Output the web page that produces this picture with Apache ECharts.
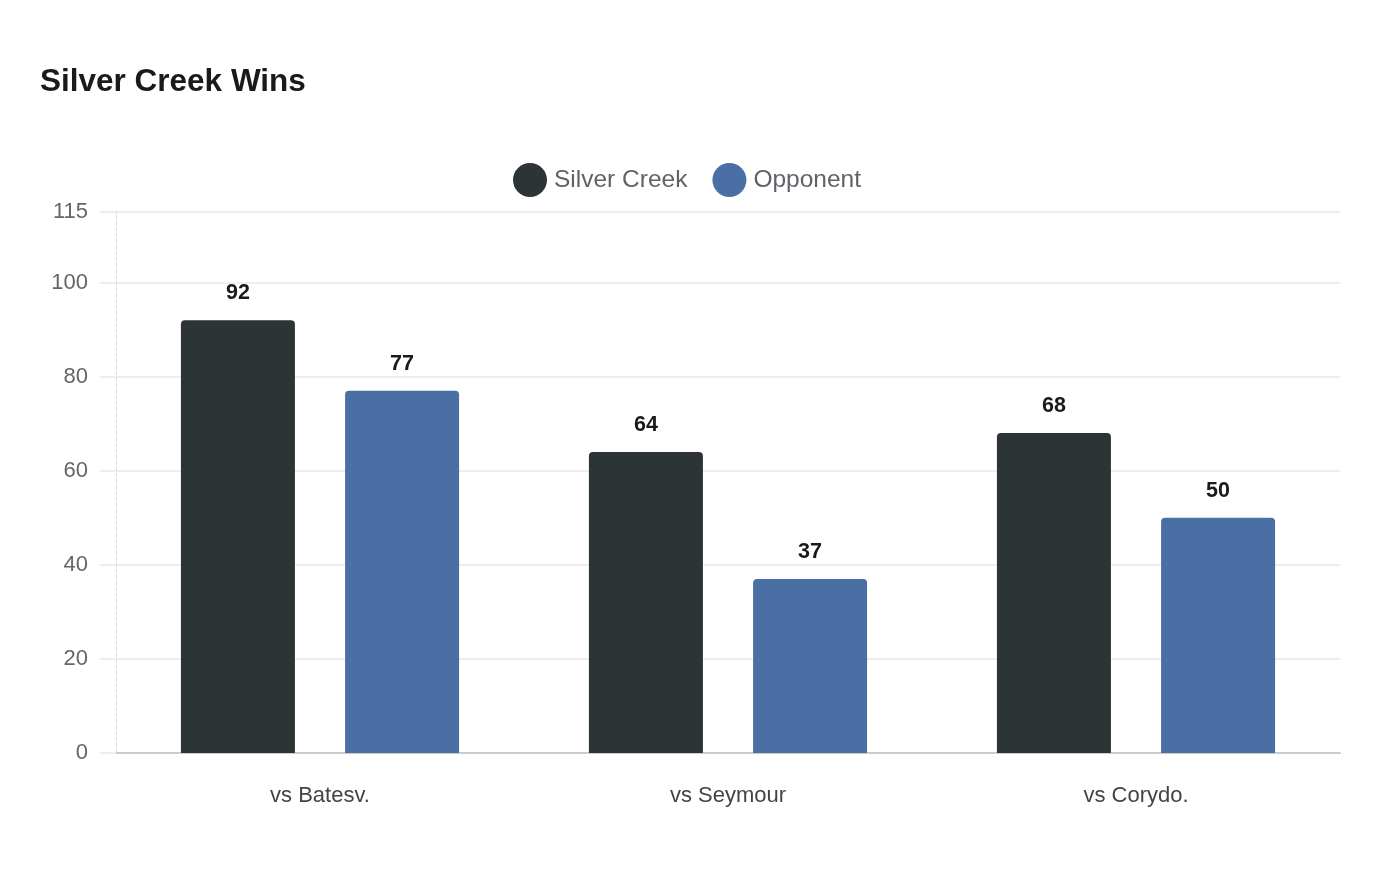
<!DOCTYPE html>
<html>
<head>
<meta charset="utf-8">
<script src="https://cdn.jsdelivr.net/npm/echarts@6/dist/echarts.min.js"></script>
<style>
  html, body { margin: 0; padding: 0; background: #fff; }
  #chart { width: 1400px; height: 880px; }
</style>
</head>
<body>
<div id="chart"></div>
<script>
const categories = ['vs Batesv.', 'vs Seymour', 'vs Corydo.']
const silverCreek = [92, 64, 68]
const opponent = [77, 37, 50]

let chart = echarts.init(document.getElementById('chart'))

let labelStyle = {
  show: true,
  position: 'top',
  distance: 16,
  color: '#1a1a1a',
  fontSize: 21.5,
  fontWeight: 'bold',
  fontFamily: 'Liberation Sans'
}

let option = {
  textStyle: { fontFamily: 'Liberation Sans' },
  title: {
    text: 'Silver Creek Wins',
    left: 35,
    top: 61,
    textStyle: { fontSize: 31.5, fontWeight: 'bold', color: '#1a1a1a' }
  },
  legend: {
    top: 158,
    left: 508,
    icon: 'circle',
    itemWidth: 34,
    itemHeight: 34,
    itemGap: 25,
    textStyle: { fontSize: 24.5, color: '#5f6368', padding: [0, 0, 0, 2] }
  },
  grid: { left: 116, right: 60, top: 212, bottom: 127 },
  xAxis: {
    type: 'category',
    data: categories,
    axisLine: { lineStyle: { color: '#cccccc', width: 2 } },
    axisTick: { show: false },
    axisLabel: { fontSize: 22, color: '#444', margin: 32 }
  },
  yAxis: {
    type: 'value',
    min: 0,
    max: 115,
    interval: 20,
    axisLine: { show: true, lineStyle: { color: '#dddddd', type: 'dashed' } },
    axisTick: { show: true, length: 16, lineStyle: { color: '#eeeeee', width: 2 } },
    splitLine: { lineStyle: { color: '#eeeeee', width: 2 } },
    axisLabel: { fontSize: 22, color: '#666', margin: 28 }
  },
  series: [
    {
      name: 'Silver Creek',
      type: 'bar',
      data: silverCreek,
      barWidth: 114,
      barGap: '44%',
      itemStyle: { color: '#2d3436', borderRadius: [4, 4, 0, 0] },
      label: labelStyle
    },
    {
      name: 'Opponent',
      type: 'bar',
      data: opponent,
      barWidth: 114,
      barGap: '44%',
      itemStyle: { color: '#4a6fa5', borderRadius: [4, 4, 0, 0] },
      label: labelStyle
    }
  ]
}

chart.setOption(option)
</script>
</body>
</html>
